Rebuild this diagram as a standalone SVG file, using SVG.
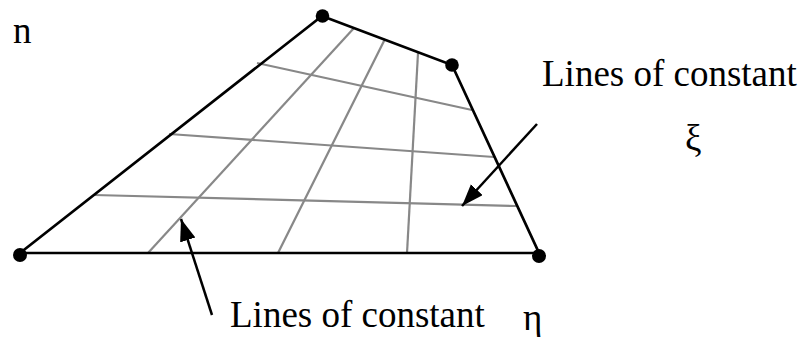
<svg xmlns="http://www.w3.org/2000/svg" width="805" height="337" viewBox="0 0 805 337">
<defs>
<style>
.edge{stroke:#000;stroke-width:2.7;fill:none;stroke-linecap:round}
.grid{stroke:#888;stroke-width:2.2;fill:none}
.arrow{stroke:#000;stroke-width:2.5;fill:none}
.dot{fill:#000}
.lbl{font-family:"Liberation Serif","Times New Roman",serif;font-size:37px;fill:#000}
</style>
<marker id="ah" markerUnits="userSpaceOnUse" markerWidth="24" markerHeight="18" refX="22" refY="8" orient="auto">
<path d="M0,0 L22,8 L0,16 Z" fill="#000"/>
</marker>
</defs>
<g id="grid">
<line class="grid" x1="148" y1="253" x2="354" y2="28"/>
<line class="grid" x1="278" y1="253" x2="385" y2="39"/>
<line class="grid" x1="407" y1="253" x2="418" y2="53"/>
<line class="grid" x1="257" y1="63" x2="472" y2="110"/>
<line class="grid" x1="169" y1="134" x2="494" y2="157"/>
<line class="grid" x1="94" y1="195" x2="516" y2="206"/>
</g>
<g id="element">
<polygon class="edge" points="20,253 322,16 452,65 539,253"/>
</g>
<g id="node1"><circle class="dot" cx="20" cy="255" r="7"/></g>
<g id="node2"><circle class="dot" cx="322.5" cy="16" r="6.8"/></g>
<g id="node3"><circle class="dot" cx="452" cy="65" r="6.8"/></g>
<g id="node4"><circle class="dot" cx="539" cy="256" r="7"/></g>
<g id="connectors">
<line class="arrow" x1="212" y1="315" x2="181" y2="219" marker-end="url(#ah)"/>
<line class="arrow" x1="537" y1="124" x2="462" y2="206" marker-end="url(#ah)"/>
</g>
<g id="labels">
<text class="lbl" x="13" y="43">n</text>
<text class="lbl" x="542" y="86">Lines of constant</text>
<text class="lbl" x="685" y="151">ξ</text>
<text class="lbl" x="523" y="330">η</text>
<text class="lbl" x="230" y="327">Lines of constant</text>
</g>
</svg>
